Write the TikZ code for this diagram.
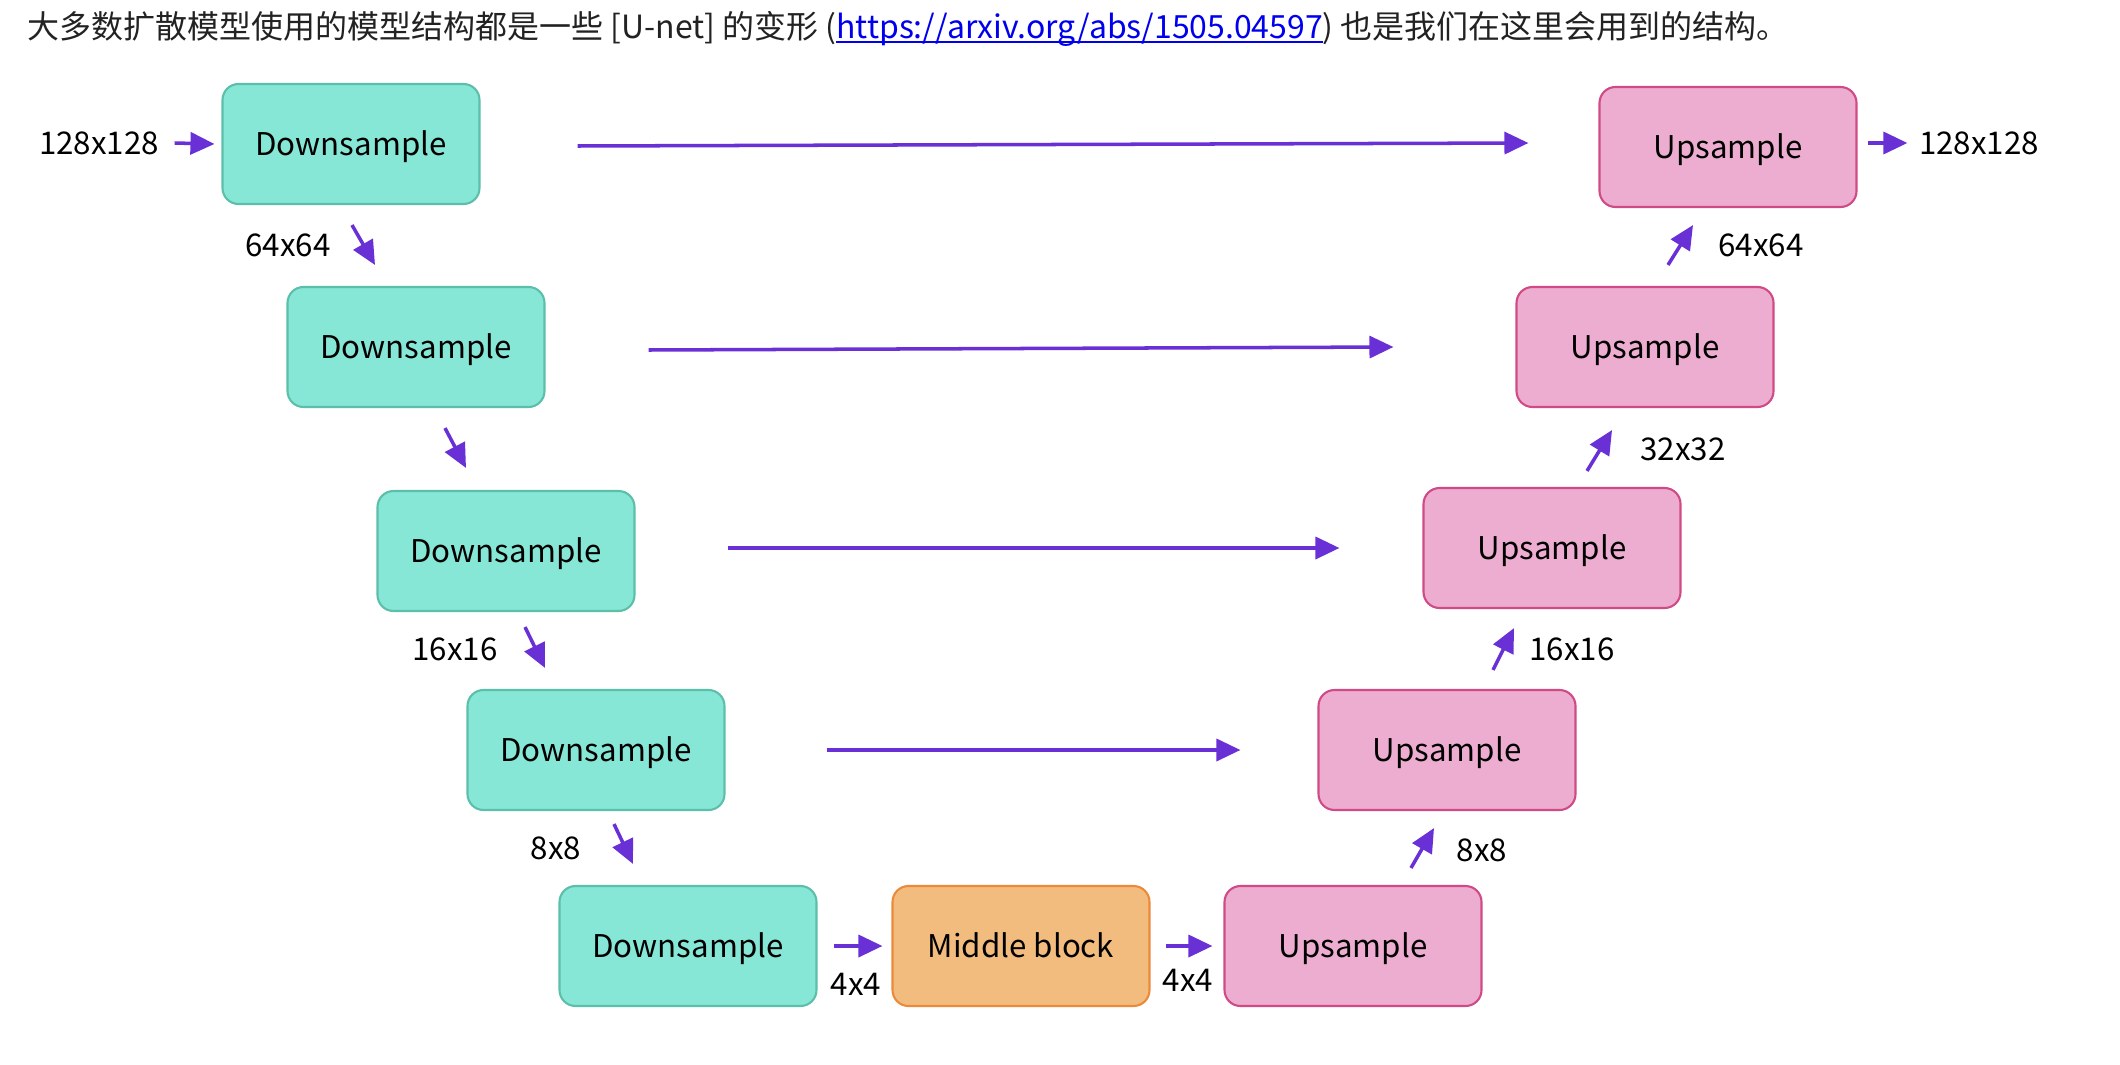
\documentclass[tikz,border=0pt]{standalone}
\usepackage{fontspec}
\setmainfont{Noto Sans CJK SC}
\usetikzlibrary{arrows.meta}
\definecolor{downfill}{HTML}{87E7D6}
\definecolor{downline}{HTML}{5CBFAA}
\definecolor{upfill}{HTML}{EDADD1}
\definecolor{upline}{HTML}{D04B86}
\definecolor{midfill}{HTML}{F2BC7F}
\definecolor{midline}{HTML}{EC8A3B}
\definecolor{arrowpurple}{HTML}{6930D5}
\definecolor{linkblue}{HTML}{0000EE}
\definecolor{titlegray}{HTML}{222222}
\newcommand\linkline[1]{\setbox0\hbox{#1}\rlap{\rule[-0.14em]{\wd0}{0.07em}}#1}

\begin{document}
\begin{tikzpicture}[
        x=0.1mm, y=-0.1mm,
        downblk/.style={rectangle, draw=downline, line width=0.6pt, fill=downfill, minimum width=2.57cm, minimum height=1.2cm, rounded corners=0.16cm, text depth=0.5pt, font=\fontsize{8.9}{11}\selectfont},
        upblk/.style={downblk, draw=upline, fill=upfill},
        midblk/.style={downblk, draw=midline, fill=midfill},
        flow/.style={-{Triangle[length=0.24cm, width=0.22cm]}, line width=1pt, draw=arrowpurple},
        dimlabel/.style={font=\fontsize{8.9}{11}\selectfont, inner sep=2pt}
    ]
        \useasboundingbox (0,0) rectangle (2120,1064);
        \node[anchor=west, inner sep=0pt, text=titlegray, font=\fontsize{9.1}{12}\selectfont] (title) at (27,29) {大多数扩散模型使用的模型结构都是一些 [U-net] 的变形 ({\color{linkblue}\linkline{https://arxiv.org/abs/1505.04597}}) 也是我们在这里会用到的结构。};
        \node[downblk] (d1) at (351,144) {Downsample};
        \node[downblk] (d2) at (416,347) {Downsample};
        \node[downblk] (d3) at (506,551) {Downsample};
        \node[downblk] (d4) at (596,750) {Downsample};
        \node[downblk] (d5) at (688,946) {Downsample};
        \node[midblk] (mid) at (1021,946) {Middle block};
        \node[upblk] (u5) at (1353,946) {Upsample};
        \node[upblk] (u4) at (1447,750) {Upsample};
        \node[upblk] (u3) at (1552,548) {Upsample};
        \node[upblk] (u2) at (1645,347) {Upsample};
        \node[upblk] (u1) at (1728,147) {Upsample};
        \node[dimlabel] (in) at (99,143) {128x128};
        \node[dimlabel] (out) at (1979,143) {128x128};
        \node[dimlabel] (d64) at (288,245) {64x64};
        \node[dimlabel] (d16) at (455,649) {16x16};
        \node[dimlabel] (d8) at (556,848) {8x8};
        \node[dimlabel] (m4a) at (856,984) {4x4};
        \node[dimlabel] (m4b) at (1188,980) {4x4};
        \node[dimlabel] (u8) at (1482,850) {8x8};
        \node[dimlabel] (u16) at (1572,649) {16x16};
        \node[dimlabel] (u32) at (1683,449) {32x32};
        \node[dimlabel] (u64) at (1761,245) {64x64};
        \draw[flow] ([shift={(8,0)}]in.east) -- ([shift={(-7,0)}]d1.west);
        \draw[flow] ([shift={(10,-4)}]u1.east) -- ([shift={(-4,0)}]out.west);
        \draw[flow] ([shift={(1,20)}]d1.south) -- ([shift={(-41,-21)}]d2.north);
        \draw[flow] ([shift={(29,20)}]d2.south) -- ([shift={(-40,-22)}]d3.north);
        \draw[flow] ([shift={(19,15)}]d3.south) -- ([shift={(-51,-21)}]d4.north);
        \draw[flow] ([shift={(18,13)}]d4.south) -- ([shift={(-55,-21)}]d5.north);
        \draw[flow] ([shift={(16,0)}]d5.east) -- ([shift={(-9,0)}]mid.west);
        \draw[flow] ([shift={(15,0)}]mid.east) -- ([shift={(-11,0)}]u5.west);
        \draw[flow] ([shift={(58,-17)}]u5.north) -- ([shift={(-13,17)}]u4.south);
        \draw[flow] ([shift={(46,-19)}]u4.north) -- ([shift={(-38,19)}]u3.south);
        \draw[flow] ([shift={(35,-16)}]u3.north) -- ([shift={(-33,22)}]u2.south);
        \draw[flow] ([shift={(23,-21)}]u2.north) -- ([shift={(-35,17)}]u1.south);
        \draw[flow] ([shift={(97,2)}]d1.east) -- ([shift={(-70,-4)}]u1.west);
        \draw[flow] ([shift={(103,3)}]d2.east) -- ([shift={(-122,0)}]u2.west);
        \draw[flow] ([shift={(92,-3)}]d3.east) -- ([shift={(-83,0)}]u3.west);
        \draw[flow] ([shift={(101,0)}]d4.east) -- ([shift={(-77,0)}]u4.west);
    \end{tikzpicture}
\end{document}
